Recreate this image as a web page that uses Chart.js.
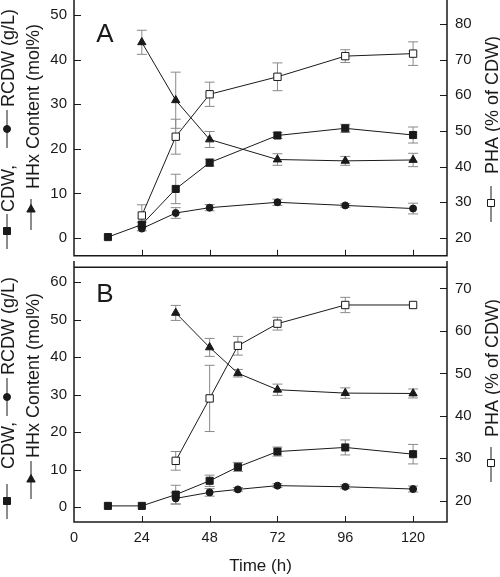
<!DOCTYPE html>
<html><head><meta charset="utf-8">
<script src="https://cdn.jsdelivr.net/npm/chart.js@4/dist/chart.umd.min.js"></script>
<style>
html,body{margin:0;padding:0;background:#fff;}
#wrap{position:relative;width:500px;height:577px;overflow:hidden;background:#fff;}
.box{position:absolute;left:0;width:500px;}
</style></head><body>
<div id="wrap">
  <div class="box" style="top:0;height:262px"><canvas id="ca"></canvas></div>
  <div class="box" style="top:261px;height:316px"><canvas id="cb"></canvas></div>
</div>
<script>
// ---------------- data ----------------
const timesA   = [12, 24, 36, 48, 72, 96, 120];
const cdwA     = [0.2, 3.0, 11.0, 16.9, 23.0, 24.6, 23.1];
const cdwErrA  = [0, 0.5, 3.3, 0.8, 0.7, 0.9, 1.8];
const rcdwA    = [null, 2.1, 5.6, 6.8, 8.0, 7.3, 6.6];
const rcdwErrA = [0, 0.5, 1.2, 0.7, 0.7, 0.4, 1.2];
const hhxA     = [null, 43.9, 30.9, 22.1, 17.6, 17.3, 17.5];
const hhxErrA  = [0, 2.7, 6.3, 1.8, 1.3, 1.0, 1.5];
const phaA     = [null, 26.3, 48.4, 60.3, 65.2, 71.0, 71.7];
const phaErrA  = [0, 3.0, 4.9, 3.4, 3.9, 1.8, 3.3];

const timesB   = [12, 24, 36, 48, 58, 72, 96, 120];
const cdwB     = [0.3, 0.3, 3.3, 7.0, 10.7, 14.8, 15.9, 14.1];
const cdwErrB  = [0, 0, 2.5, 1.5, 1.2, 1.2, 2.0, 2.6];
const rcdwB    = [null, null, 2.3, 3.9, 4.7, 5.7, 5.4, 4.8];
const rcdwErrB = [0, 0, 1.5, 1.0, 0.5, 0.5, 0.5, 0.8];
const hhxB     = [null, null, 51.8, 42.6, 35.7, 31.3, 30.4, 30.3];
const hhxErrB  = [0, 0, 2.0, 2.4, 1.0, 1.5, 1.4, 1.2];
const phaB     = [null, null, 29.4, 44.1, 56.5, 61.7, 66.1, 66.1];
const phaErrB  = [0, 0, 2.2, 7.8, 2.2, 1.5, 1.8, 0];

const xTicks      = [0, 24, 48, 72, 96, 120];
const leftTicksA  = [0, 10, 20, 30, 40, 50];
const rightTicksA = [20, 30, 40, 50, 60, 70, 80];
const leftTicksB  = [0, 10, 20, 30, 40, 50, 60];
const rightTicksB = [20, 30, 40, 50, 60, 70];

const xTitle = 'Time (h)';
const leftTitle1 = ['CDW,', 'RCDW (g/L)'];
const leftTitle2 = 'HHx Content (mol%)';
const rightTitle = 'PHA (% of CDW)';

// ---------------- styling helpers ----------------
const FONT = 'Arial, "Liberation Sans", Helvetica, sans-serif';
const INK = '#1a1a1a';
const ERR = '#8a8a8a';

function pts(times, vals){ return times.map((t,i)=>({x:t, y:vals[i]})); }

function mkDatasets(times, cdw, cdwE, rcdw, rcdwE, hhx, hhxE, pha, phaE){
  const base = {borderColor:INK, borderWidth:1, pointBorderColor:INK, pointBorderWidth:1, tension:0, spanGaps:false};
  return [
    Object.assign({}, base, {label:'CDW', data:pts(times,cdw), errs:cdwE, yAxisID:'y', pointStyle:'rect', pointRadius:5, pointBackgroundColor:INK}),
    Object.assign({}, base, {label:'RCDW', data:pts(times,rcdw), errs:rcdwE, yAxisID:'y', pointStyle:'circle', pointRadius:3.5, pointBackgroundColor:INK}),
    Object.assign({}, base, {label:'HHx', data:pts(times,hhx), errs:hhxE, yAxisID:'y', pointStyle:'triangle', pointRadius:4.8, pointBackgroundColor:INK}),
    Object.assign({}, base, {label:'PHA', data:pts(times,pha), errs:phaE, yAxisID:'yR', pointStyle:'rect', pointRadius:5.2, pointBackgroundColor:'#fff'})
  ];
}

function drawMarker(ctx, kind, x, y){
  ctx.save();
  ctx.lineWidth = 1; ctx.strokeStyle = INK; ctx.fillStyle = INK;
  ctx.beginPath();
  if (kind === 'sq'){ ctx.rect(x-3.5, y-3.5, 7, 7); ctx.fill(); ctx.stroke(); }
  else if (kind === 'osq'){ ctx.fillStyle='#fff'; ctx.rect(x-3.5, y-3.5, 7, 7); ctx.fill(); ctx.stroke(); }
  else if (kind === 'ci'){ ctx.arc(x, y, 3.5, 0, Math.PI*2); ctx.fill(); ctx.stroke(); }
  else if (kind === 'tri'){ ctx.moveTo(x, y-4.5); ctx.lineTo(x+4.2, y+3); ctx.lineTo(x-4.2, y+3); ctx.closePath(); ctx.fill(); ctx.stroke(); }
  ctx.restore();
}

// column: {xb, cx, items:[{sym, y0, y1, m} | {text, y}]}
function drawColumn(ctx, col){
  ctx.save();
  ctx.fillStyle = INK; ctx.strokeStyle = INK;
  ctx.font = '18px ' + FONT;
  col.items.forEach(it => {
    if (it.sym){
      ctx.beginPath(); ctx.lineWidth = 1;
      ctx.moveTo(col.cx, it.y0); ctx.lineTo(col.cx, it.y1); ctx.stroke();
      drawMarker(ctx, it.sym, col.cx, it.m);
    } else {
      ctx.save();
      ctx.translate(col.xb, it.y); ctx.rotate(-Math.PI/2);
      ctx.textAlign = 'left'; ctx.textBaseline = 'alphabetic';
      ctx.fillText(it.text, 0, 0);
      ctx.restore();
    }
  });
  ctx.restore();
}

function decoPlugin(opts){
  return {
    id: 'deco' + opts.letter,
    beforeDatasetsDraw(chart){
      const ctx = chart.ctx;
      ctx.save();
      ctx.strokeStyle = ERR; ctx.lineWidth = 1;
      chart.data.datasets.forEach((ds, i) => {
        const meta = chart.getDatasetMeta(i);
        const ys = chart.scales[ds.yAxisID];
        ds.data.forEach((p, j) => {
          const e = ds.errs[j];
          if (p.y === null || !e) return;
          const x = meta.data[j].x;
          const yt = ys.getPixelForValue(p.y + e), yb = ys.getPixelForValue(p.y - e);
          ctx.beginPath();
          ctx.moveTo(x, yt); ctx.lineTo(x, yb);
          ctx.moveTo(x-5, yt); ctx.lineTo(x+5, yt);
          ctx.moveTo(x-5, yb); ctx.lineTo(x+5, yb);
          ctx.stroke();
        });
      });
      ctx.restore();
    },
    afterDraw(chart){
      const ctx = chart.ctx, a = chart.chartArea;
      const sx = chart.scales.x, sy = chart.scales.y, sr = chart.scales.yR;
      ctx.save();
      ctx.strokeStyle = INK; ctx.lineWidth = 1.5;
      ctx.beginPath();
      ctx.moveTo(a.left, opts.frameTop); ctx.lineTo(a.left, a.bottom);
      ctx.lineTo(a.right, a.bottom); ctx.lineTo(a.right, opts.frameTop);
      if (opts.topLine){ ctx.moveTo(a.left, a.top); ctx.lineTo(a.right, a.top); }
      ctx.stroke();
      ctx.lineWidth = 1;
      ctx.beginPath();
      opts.leftTicks.forEach(v => { const y = Math.round(sy.getPixelForValue(v))+0.5; ctx.moveTo(a.left, y); ctx.lineTo(a.left+7, y); });
      opts.rightTicks.forEach(v => { const y = Math.round(sr.getPixelForValue(v))+0.5; ctx.moveTo(a.right, y); ctx.lineTo(a.right-7, y); });
      xTicks.forEach(v => { if (v===0) return; const x = Math.round(sx.getPixelForValue(v))+0.5; ctx.moveTo(x, a.bottom); ctx.lineTo(x, a.bottom-6); });
      ctx.stroke();
      // panel letter
      ctx.fillStyle = INK; ctx.font = '26px ' + FONT;
      ctx.textAlign = 'center'; ctx.textBaseline = 'alphabetic';
      ctx.fillText(opts.letter, 105, opts.letterY);
      ctx.restore();
      opts.columns.forEach(c => drawColumn(ctx, c));
    }
  };
}

function tickSetter(arr){ return s => { s.ticks = arr.map(v => ({value:v})); }; }
function noPad(s){ s.paddingTop = 0; s.paddingBottom = 0; s.paddingLeft = 0; s.paddingRight = 0; }

function makeChart(id, cfg){
  const showX = cfg.showX;
  return new Chart(document.getElementById(id), {
    type: 'line',
    data: { datasets: cfg.datasets },
    options: {
      responsive: true, maintainAspectRatio: false, animation: false,
      devicePixelRatio: 1,
      layout: { padding: {top: cfg.padTop, left: 0, right: 0, bottom: 0} },
      plugins: { legend: {display:false}, tooltip: {enabled:false}, title: {display:false} },
      elements: { line: {borderWidth:1} },
      scales: {
        x: {
          type: 'linear', min: 0, max: 132,
          afterBuildTicks: tickSetter(xTicks),
          ticks: { display: showX, color: INK, font: {size: 14.5, family: FONT}, padding: 7, maxRotation: 0, autoSkip: false },
          grid: { display: false, drawTicks: false },
          border: { display: false },
          title: { display: showX, text: xTitle, color: INK, font: {size: 17, family: FONT}, padding: {top: 0, bottom: 0} },
          afterFit: s => { noPad(s); s.height = cfg.xHeight; }
        },
        y: {
          position: 'left', min: cfg.yMin, max: cfg.yMax,
          afterBuildTicks: tickSetter(cfg.leftTicks),
          ticks: { color: INK, font: {size: 15, family: FONT}, padding: 7 },
          grid: { display: false, drawTicks: false },
          border: { display: false },
          afterFit: s => { noPad(s); s.width = 74; }
        },
        yR: {
          position: 'right', min: cfg.rMin, max: cfg.rMax,
          afterBuildTicks: tickSetter(cfg.rightTicks),
          ticks: { color: INK, font: {size: 15, family: FONT}, padding: 8 },
          grid: { display: false, drawTicks: false },
          border: { display: false },
          afterFit: s => { noPad(s); s.width = 53; }
        }
      }
    },
    plugins: [cfg.plugin]
  });
}

// ---------------- panel A ----------------
makeChart('ca', {
  showX: false, padTop: 1, xHeight: 1,
  yMin: -4, yMax: 52, rMin: 15, rMax: 85,
  leftTicks: leftTicksA, rightTicks: rightTicksA,
  datasets: mkDatasets(timesA, cdwA, cdwErrA, rcdwA, rcdwErrA, hhxA, hhxErrA, phaA, phaErrA),
  plugin: decoPlugin({
    letter: 'A', letterY: 42, frameTop: 0, topLine: false,
    leftTicks: leftTicksA, rightTicks: rightTicksA,
    columns: [
      {xb: 13.5, cx: 7, items: [
        {sym:'sq', y0:249, y1:214, m:231},
        {text: leftTitle1[0], y: 212},
        {sym:'ci', y0:148, y1:110, m:129},
        {text: leftTitle1[1], y: 107}
      ]},
      {xb: 38.5, cx: 31, items: [
        {sym:'tri', y0:230, y1:199, m:209},
        {text: leftTitle2, y: 189}
      ]},
      {xb: 498, cx: 491, items: [
        {sym:'osq', y0:222, y1:186, m:203},
        {text: rightTitle, y: 174}
      ]}
    ]
  })
});

// ---------------- panel B ----------------
const oB = 261;
makeChart('cb', {
  showX: true, padTop: 0, xHeight: 55,
  yMin: -4, yMax: 64, rMin: 15, rMax: 75,
  leftTicks: leftTicksB, rightTicks: rightTicksB,
  datasets: mkDatasets(timesB, cdwB, cdwErrB, rcdwB, rcdwErrB, hhxB, hhxErrB, phaB, phaErrB),
  plugin: decoPlugin({
    letter: 'B', letterY: 302 - oB, frameTop: 0, topLine: true,
    leftTicks: leftTicksB, rightTicks: rightTicksB,
    columns: [
      {xb: 13.5, cx: 7, items: [
        {sym:'sq', y0:519-oB, y1:484-oB, m:501-oB},
        {text: leftTitle1[0], y: 469-oB},
        {sym:'ci', y0:416-oB, y1:378-oB, m:397-oB},
        {text: leftTitle1[1], y: 375-oB}
      ]},
      {xb: 38.5, cx: 31, items: [
        {sym:'tri', y0:499-oB, y1:461-oB, m:479-oB},
        {text: leftTitle2, y: 458-oB}
      ]},
      {xb: 498, cx: 491, items: [
        {sym:'osq', y0:482-oB, y1:447-oB, m:463-oB},
        {text: rightTitle, y: 437-oB}
      ]}
    ]
  })
});
</script>
</body></html>
